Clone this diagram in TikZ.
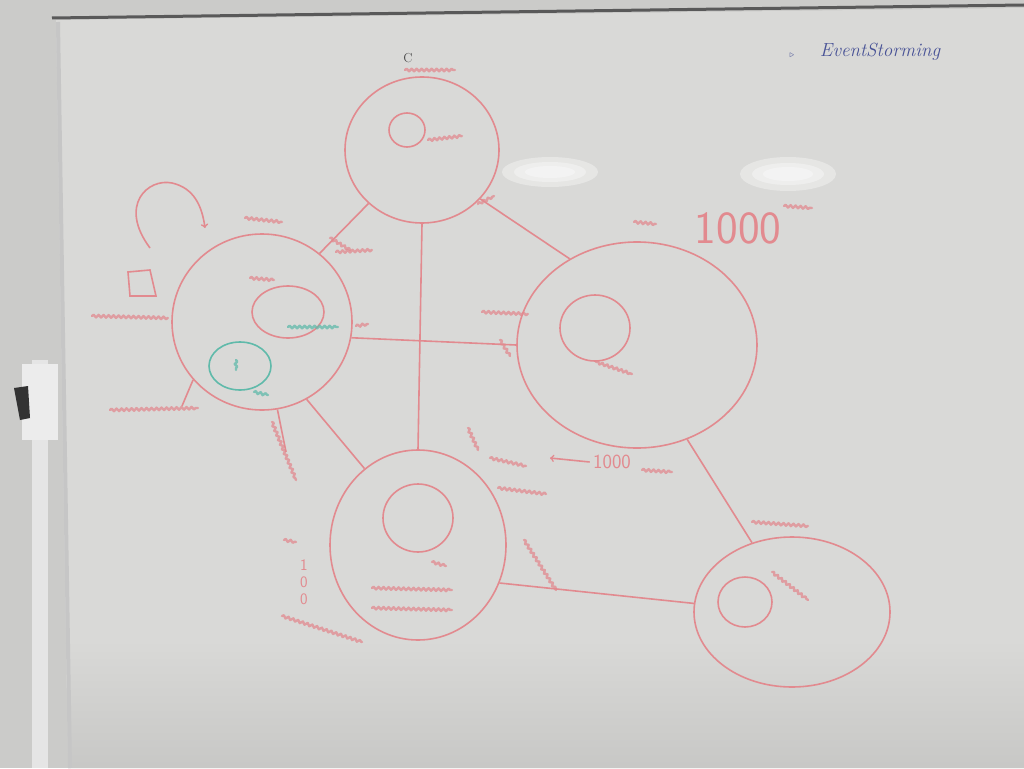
\documentclass[tikz,border=0pt]{standalone}
\usepackage{tikz}
\usetikzlibrary{shapes.geometric}
\usetikzlibrary{decorations.pathmorphing}
\definecolor{marker}{RGB}{226,138,143}
\definecolor{tealmark}{RGB}{96,186,170}
\definecolor{ink}{RGB}{72,82,150}
\definecolor{board}{RGB}{217,217,215}
\definecolor{wall}{RGB}{203,203,201}

\begin{document}
\begin{tikzpicture}[x=1pt,y=-1pt,
  bubble/.style={draw=marker,line width=1.6pt,ellipse,inner sep=0pt},
  link/.style={draw=marker,line width=1.6pt},
  scribble/.style={draw=marker,line width=2.4pt,line cap=round,line join=round,opacity=0.75,decorate,
    decoration={snake,amplitude=1.3pt,segment length=5pt}},
  glare/.style={fill=white,opacity=0.35,ellipse,inner sep=0pt}]
\useasboundingbox (0,0) rectangle (1024,768);
\fill[wall] (0,0) rectangle (1024,768);
\fill[board] (56,20) -- (1024,8) -- (1024,768) -- (68,768) -- cycle;
\shade[top color=board,bottom color=board!92!black] (66,640) -- (1024,640) -- (1024,768) -- (68,768) -- cycle;
\draw[gray!70!black,line width=3pt] (52,18) -- (1024,5);
\draw[gray!45,line width=4pt] (58,22) -- (70,768);
\fill[gray!20] (32,360) rectangle (48,768);
\fill[gray!15] (22,364) rectangle (58,440);
\fill[black!80] (14,388) -- (28,386) -- (30,418) -- (20,420) -- cycle;

\node[glare,minimum width=96,minimum height=30] at (550,172) {};
\node[glare,minimum width=72,minimum height=20] at (550,172) {};
\node[glare,minimum width=50,minimum height=12] at (550,172) {};
\node[glare,minimum width=96,minimum height=34] at (788,174) {};
\node[glare,minimum width=72,minimum height=22] at (788,174) {};
\node[glare,minimum width=50,minimum height=14] at (788,174) {};

\node[bubble,minimum width=154,minimum height=146] (top) at (422,150) {};
\node[bubble,minimum width=180,minimum height=176] (left) at (262,322) {};
\node[bubble,minimum width=240,minimum height=206] (right) at (637,345) {};
\node[bubble,minimum width=176,minimum height=190] (bottom) at (418,545) {};
\node[bubble,minimum width=196,minimum height=150] (corner) at (792,612) {};

\node[bubble,minimum width=36,minimum height=34] (topin) at (407,130) {};
\node[bubble,minimum width=72,minimum height=52] (leftin) at (288,312) {};
\node[bubble,draw=tealmark,minimum width=62,minimum height=48] (leftteal) at (240,366) {};
\node[bubble,minimum width=70,minimum height=66] (rightin) at (595,328) {};
\node[bubble,minimum width=70,minimum height=68] (bottomin) at (418,518) {};
\node[bubble,minimum width=54,minimum height=50] (cornerin) at (745,602) {};

\draw[link] (top.south) -- (bottom.north);
\draw[link] (left.-10) -- (right.180);
\draw[link] (top.225) -- (left.50);
\draw[link] (top.-40) -- (right.128);
\draw[link] (left.-60) -- (bottom.125);
\draw[link] (right.-62) -- (corner.120);
\draw[link] (bottom.-25) -- (corner.175);
\coordinate (abcd) at (182,406);
\draw[link] (left.220) -- (abcd);
\coordinate (hundred) at (286,452);
\draw[link] (left.-80) -- (hundred);

\draw[link,->] (150,248) .. controls (118,205) and (148,178) .. (172,183) .. controls (194,188) and (202,206) .. (205,228);
\draw[link] (128,272) -- (150,270) -- (156,296) -- (130,296) -- cycle;

\node[text=ink,font=\fontsize{19}{19}\selectfont\itshape] (title) at (880,52) {EventStorming};
\node[text=ink,font=\fontsize{9}{9}\selectfont] (bullet) at (792,55) {$\triangleright$};
\node[text=black!70,font=\fontsize{13}{13}\selectfont] (cee) at (408,58) {C};
\node[text=marker,font=\fontsize{46}{46}\selectfont\sffamily] (big) at (738,228) {1000};
\node[text=marker,font=\fontsize{20}{20}\selectfont\sffamily] (small) at (612,462) {1000};
\coordinate (arrowtip) at (550,458);
\draw[link,->] (small.west) -- (arrowtip);
\node[text=marker,font=\fontsize{16}{17}\selectfont\sffamily,align=center,inner sep=1pt] (hund) at (304,582) {1\\0\\0};

\draw[scribble] (405,70) -- (455,70);
\draw[scribble] (428,140) -- (462,136);
\draw[scribble] (478,204) -- (494,196);
\draw[scribble] (245,218) -- (282,222);
\draw[scribble] (250,278) -- (274,280);
\draw[scribble,draw=tealmark] (288,327) -- (338,327);
\draw[scribble,draw=tealmark] (254,392) -- (268,395);
\draw[scribble,draw=tealmark] (236,360) -- (236,370);
\draw[scribble] (92,316) -- (168,318);
\draw[scribble] (110,410) -- (198,408);
\draw[scribble] (330,238) -- (350,250);
\draw[scribble] (336,252) -- (372,250);
\draw[scribble] (356,326) -- (368,324);
\draw[scribble] (482,312) -- (528,314);
\draw[scribble] (500,340) -- (510,356);
\draw[scribble] (596,362) -- (632,374);
\draw[scribble] (634,222) -- (656,224);
\draw[scribble] (784,206) -- (812,208);
\draw[scribble] (468,428) -- (478,450);
\draw[scribble] (490,458) -- (526,466);
\draw[scribble] (498,488) -- (546,494);
\draw[scribble] (642,470) -- (672,472);
\draw[scribble] (432,562) -- (446,566);
\draw[scribble] (372,588) -- (452,590);
\draw[scribble] (372,608) -- (452,610);
\draw[scribble] (524,540) -- (556,590);
\draw[scribble] (272,422) -- (296,480);
\draw[scribble] (284,540) -- (296,542);
\draw[scribble] (282,616) -- (362,642);
\draw[scribble] (752,522) -- (808,526);
\draw[scribble] (772,572) -- (808,600);
\end{tikzpicture}
\end{document}
